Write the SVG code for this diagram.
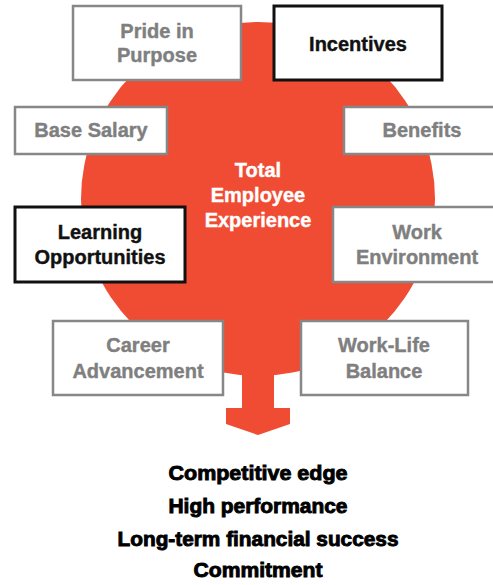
<svg xmlns="http://www.w3.org/2000/svg" width="493" height="585" viewBox="0 0 493 585">
<style>
.box{fill:#fff;stroke:#878787;stroke-width:2.5}
.boxk{fill:#fff;stroke:#111;stroke-width:3}
.t{font-family:"Liberation Sans",Arial,sans-serif;font-weight:bold;font-size:20px;text-anchor:middle;fill:#7f7f7f;stroke:#7f7f7f;stroke-width:0.4}
.tk{fill:#111;stroke:#111}
.tw{fill:#fff;stroke:#fff;font-size:20px}
.out{font-family:"Liberation Sans",Arial,sans-serif;font-weight:900;font-size:20.5px;text-anchor:middle;fill:#000;stroke:#000;stroke-width:0.9}
</style>
<g id="core">
<circle cx="258" cy="199" r="177" fill="#F04B33"/>
<polygon points="242,360 274,360 274,408 290,408 290,424 258,435 226,424 226,408 242,408" fill="#F04B33"/>
<text class="t tw" x="258" y="177">Total</text>
<text class="t tw" x="258" y="202">Employee</text>
<text class="t tw" x="258" y="227">Experience</text>
</g>
<g id="connectors"></g>
<g id="pride"><rect class="box" x="73" y="6" width="168" height="74"/><text class="t" x="157" y="38">Pride in</text><text class="t" x="157" y="62">Purpose</text></g>
<g id="incentives"><rect class="boxk" x="274" y="6" width="168" height="74"/><text class="t tk" x="358" y="51">Incentives</text></g>
<g id="base"><rect class="box" x="15" y="107" width="152" height="47"/><text class="t" x="91" y="137">Base Salary</text></g>
<g id="benefits"><rect class="box" x="344" y="107" width="158" height="47"/><text class="t" x="422" y="137">Benefits</text></g>
<g id="learning"><rect class="boxk" x="15" y="207" width="170" height="75"/><text class="t tk" x="100" y="239">Learning</text><text class="t tk" x="100" y="264">Opportunities</text></g>
<g id="work"><rect class="box" x="333" y="207" width="168" height="75"/><text class="t" x="417" y="239">Work</text><text class="t" x="417" y="264">Environment</text></g>
<g id="career"><rect class="box" x="53" y="321" width="170" height="74"/><text class="t" x="138" y="352">Career</text><text class="t" x="138" y="378">Advancement</text></g>
<g id="worklife"><rect class="box" x="301" y="321" width="167" height="74"/><text class="t" x="384" y="352">Work-Life</text><text class="t" x="384" y="378">Balance</text></g>
<g id="outcomes">
<text class="out" x="258" y="480" textLength="179" lengthAdjust="spacingAndGlyphs">Competitive edge</text>
<text class="out" x="258" y="513" textLength="179" lengthAdjust="spacingAndGlyphs">High performance</text>
<text class="out" x="258" y="546" textLength="281" lengthAdjust="spacingAndGlyphs">Long-term financial success</text>
<text class="out" x="258" y="577" textLength="129" lengthAdjust="spacingAndGlyphs">Commitment</text>
</g>
</svg>
